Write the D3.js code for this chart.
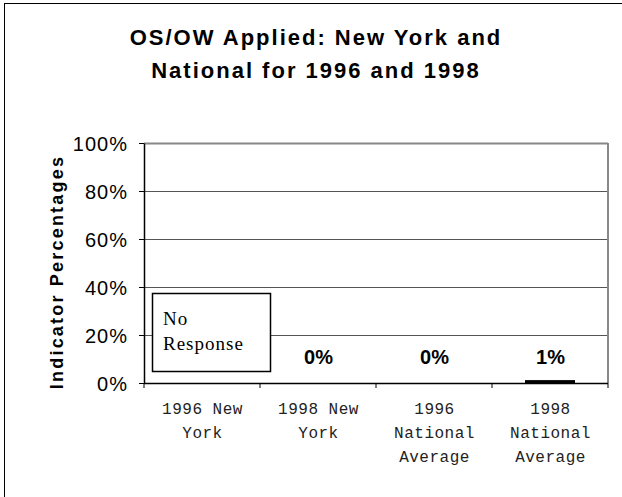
<!DOCTYPE html>
<html lang="en">
  <head>
    <meta charset="UTF-8" />
    <title>OS/OW Applied</title>
    <script src="https://d3js.org/d3.v7.min.js"></script>
    <style>
      body {
        margin: 0;
        font-family: Arial, "Liberation Sans", sans-serif;
        background: #fff;
      }
    </style>
  </head>
  <body>
    <svg id="chart" width="622" height="497"></svg>
    <script>
      // chart data
      const categories = [
        ["1996 New", "York"],
        ["1998 New", "York"],
        ["1996", "National", "Average"],
        ["1998", "National", "Average"],
      ];
      const values = [null, 0, 0, 1]; // null = no response
      const valueLabels = [null, "0%", "0%", "1%"];
      const yTicks = [0, 20, 40, 60, 80, 100];
      const titleLines = ["OS/OW Applied: New York and", "National for 1996 and 1998"];

      const svg = d3.select("#chart");
      const margin = { top: 143, right: 14, bottom: 114, left: 144 },
        width = 622 - margin.left - margin.right,
        height = 497 - margin.top - margin.bottom;

      // outer frame
      svg.append("rect")
        .attr("x", 4.5).attr("y", 3.5)
        .attr("width", 640).attr("height", 520)
        .attr("fill", "none").attr("stroke", "#000");

      svg.selectAll("text.title")
        .data(titleLines)
        .enter()
        .append("text")
        .attr("class", "title")
        .attr("x", 316)
        .attr("y", (d, i) => 45 + i * 33)
        .attr("text-anchor", "middle")
        .style("font-size", "22px")
        .style("font-weight", "bold")
        .style("letter-spacing", "2px")
        .text((d) => d);

      const x = d3.scaleBand().domain(d3.range(categories.length)).range([0, width]);
      const y = d3.scaleLinear().domain([0, 100]).range([height, 0]);

      const g = svg.append("g").attr("transform", `translate(${margin.left},${margin.top})`);

      // gridlines
      g.selectAll("line.grid")
        .data(yTicks.filter((t) => t > 0))
        .enter()
        .append("line")
        .attr("x1", 0).attr("x2", width)
        .attr("y1", (d) => Math.round(y(d)) + 0.5)
        .attr("y2", (d) => Math.round(y(d)) + 0.5)
        .attr("stroke", (d) => (d === 100 ? "#888" : "#555"))
        .attr("stroke-width", (d) => (d === 100 ? 2 : 1));

      // right edge
      g.append("line")
        .attr("x1", width).attr("x2", width)
        .attr("y1", 0).attr("y2", height)
        .attr("stroke", "#888").attr("stroke-width", 2);

      // bars
      g.selectAll("rect.bar")
        .data(values)
        .enter()
        .filter((d) => d !== null && d > 0)
        .append("rect")
        .attr("class", "bar")
        .attr("x", (d, i) => x(3) + x.bandwidth() / 2 - 25)
        .attr("width", 50)
        .attr("y", (d) => y(d) - 0.5)
        .attr("height", (d) => height - y(d) + 0.5)
        .attr("fill", "#000");

      // y axis
      const yAxis = g.append("g")
        .call(d3.axisLeft(y).tickValues(yTicks).tickFormat((d) => d + "%").tickSize(5).tickSizeOuter(0));
      yAxis.select(".domain").attr("stroke", "#000").attr("stroke-width", 1.5);
      yAxis.selectAll(".tick line").attr("stroke", "#000");
      yAxis.selectAll("text")
        .attr("x", -16)
        .attr("dy", "0.36em")
        .style("font-family", "Arial, 'Liberation Sans', sans-serif")
        .style("font-size", "20px")
        .style("letter-spacing", "1px")
        .attr("fill", "#000");

      // x axis
      const xAxis = g.append("g").attr("transform", `translate(0,${height})`);
      xAxis.append("line")
        .attr("x1", 0).attr("x2", width)
        .attr("y1", 0.5).attr("y2", 0.5)
        .attr("stroke", "#000").attr("stroke-width", 1.5);
      xAxis.selectAll("line.tk")
        .data(d3.range(categories.length + 1))
        .enter()
        .append("line")
        .attr("x1", (d) => (d < categories.length ? x(d) : width))
        .attr("x2", (d) => (d < categories.length ? x(d) : width))
        .attr("y1", 0).attr("y2", 5)
        .attr("stroke", "#000");

      const xl = xAxis.selectAll("text.cat")
        .data(categories)
        .enter()
        .append("text")
        .attr("class", "cat")
        .attr("text-anchor", "middle")
        .attr("transform", (d, i) => `translate(${x(i) + x.bandwidth() / 2 + 0.5},0)`)
        .style("font-family", "'Liberation Mono', 'Courier New', monospace")
        .style("font-size", "16px")
        .style("letter-spacing", "0.5px")
        .attr("fill", "#222");
      xl.selectAll("tspan")
        .data((d) => d)
        .enter()
        .append("tspan")
        .attr("x", 0)
        .attr("y", (d, i) => 31 + i * 24)
        .text((d) => d);

      // value labels
      g.selectAll("text.val")
        .data(valueLabels)
        .enter()
        .filter((d) => d !== null)
        .append("text")
        .attr("class", "val")
        .attr("x", (d, i) => x(i + 1) + x.bandwidth() / 2 + 0.5)
        .attr("y", 221)
        .attr("text-anchor", "middle")
        .style("font-size", "20px")
        .style("font-weight", "bold")
        .text((d) => d);

      // no response box
      const nr = g.append("g");
      nr.append("rect")
        .attr("x", x(0) + 8.5).attr("y", y(37.5) + 0.5)
        .attr("width", 118).attr("height", 78)
        .attr("fill", "#fff").attr("stroke", "#000").attr("stroke-width", 1.5);
      nr.selectAll("text")
        .data(["No", "Response"])
        .enter()
        .append("text")
        .attr("x", x(0) + 19)
        .attr("y", (d, i) => y(37.5) + 32 + i * 25)
        .style("font-family", "'Liberation Serif', 'Times New Roman', serif")
        .style("font-size", "19px")
        .style("letter-spacing", "1px")
        .text((d) => d);

      // y axis title
      svg.append("text")
        .attr("transform", "translate(63,272) rotate(-90)")
        .attr("text-anchor", "middle")
        .style("font-size", "18px")
        .style("font-weight", "bold")
        .style("letter-spacing", "2.2px")
        .text("Indicator Percentages");
    </script>
  </body>
</html>
